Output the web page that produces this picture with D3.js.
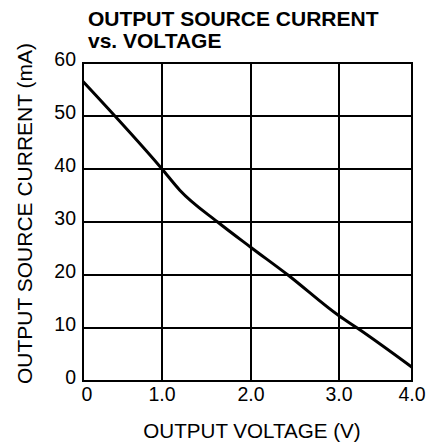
<!DOCTYPE html>
<html>
<head>
<meta charset="utf-8">
<script src="https://cdn.jsdelivr.net/npm/d3@7"></script>
<style>
  body { margin: 0; background: #fff; }
  text { font-family: "Liberation Sans", Arial, sans-serif; fill: #000; }
</style>
</head>
<body>
<svg id="chart" width="427" height="445"></svg>
<script>
// values
const voltage = [0, 1.0, 1.2, 1.625, 2.0, 2.42, 3.0, 3.25, 4.0];
const current = [56.5, 40, 36, 30, 25.2, 20, 12.3, 10, 2.6];
const xTicks = [0, 1, 2, 3, 4];
const xTickLabels = ["0", "1.0", "2.0", "3.0", "4.0"];
const yTicks = [0, 10, 20, 30, 40, 50, 60];
const titleLines = ["OUTPUT SOURCE CURRENT", "vs. VOLTAGE"];

const svg = d3.select("#chart");

// the original grid is drawn by hand, columns are not all the same width
const x = d3.scaleLinear().domain(xTicks).range([83, 162, 251, 339, 412]);
const y = d3.scaleLinear().domain([0, 60]).range([381, 63]);

// grid
svg.selectAll(".vgrid")
  .data(xTicks)
  .enter()
  .append("line")
  .attr("x1", (d) => x(d))
  .attr("x2", (d) => x(d))
  .attr("y1", y(0) + 1)
  .attr("y2", y(60) - 1)
  .style("stroke", "#000")
  .style("stroke-width", 2)
  .attr("class", "vgrid");

svg.selectAll(".hgrid")
  .data(yTicks)
  .enter()
  .append("line")
  .attr("x1", x(0) - 1)
  .attr("x2", x(4) + 1)
  .attr("y1", (d) => y(d))
  .attr("y2", (d) => y(d))
  .style("stroke", "#000")
  .style("stroke-width", 2)
  .attr("class", "hgrid");

// tick labels
svg.selectAll(".xlab")
  .data(xTicks)
  .enter()
  .append("text")
  .attr("x", (d, i) => (i === 0 ? x(d) + 4 : x(d)))
  .attr("y", 401)
  .attr("text-anchor", "middle")
  .style("font-size", "19.5px")
  .text((d, i) => xTickLabels[i])
  .attr("class", "xlab");

svg.selectAll(".ylab")
  .data(yTicks)
  .enter()
  .append("text")
  .attr("x", 76)
  .attr("y", (d) => y(d) + 3)
  .attr("text-anchor", "end")
  .style("font-size", "19.5px")
  .text((d) => d)
  .attr("class", "ylab");

// curve
const pts = voltage.map((v, i) => [v, current[i]]);
svg.append("path")
  .datum(pts)
  .attr("d", d3.line().x((d) => x(d[0])).y((d) => y(d[1])).curve(d3.curveMonotoneX))
  .style("fill", "none")
  .style("stroke", "#000")
  .style("stroke-width", 3);

// titles
svg.selectAll(".title")
  .data(titleLines)
  .enter()
  .append("text")
  .attr("x", 88)
  .attr("y", (d, i) => 26 + i * 21.5)
  .style("font-size", "21px")
  .style("font-weight", "bold")
  .text((d) => d)
  .attr("class", "title");

svg.append("text")
  .attr("x", 252)
  .attr("y", 438)
  .attr("text-anchor", "middle")
  .style("font-size", "20.6px")
  .text("OUTPUT VOLTAGE (V)");

svg.append("text")
  .attr("transform", "translate(32,213.5) rotate(-90)")
  .attr("text-anchor", "middle")
  .style("font-size", "21px")
  .text("OUTPUT SOURCE CURRENT (mA)");
</script>
</body>
</html>
